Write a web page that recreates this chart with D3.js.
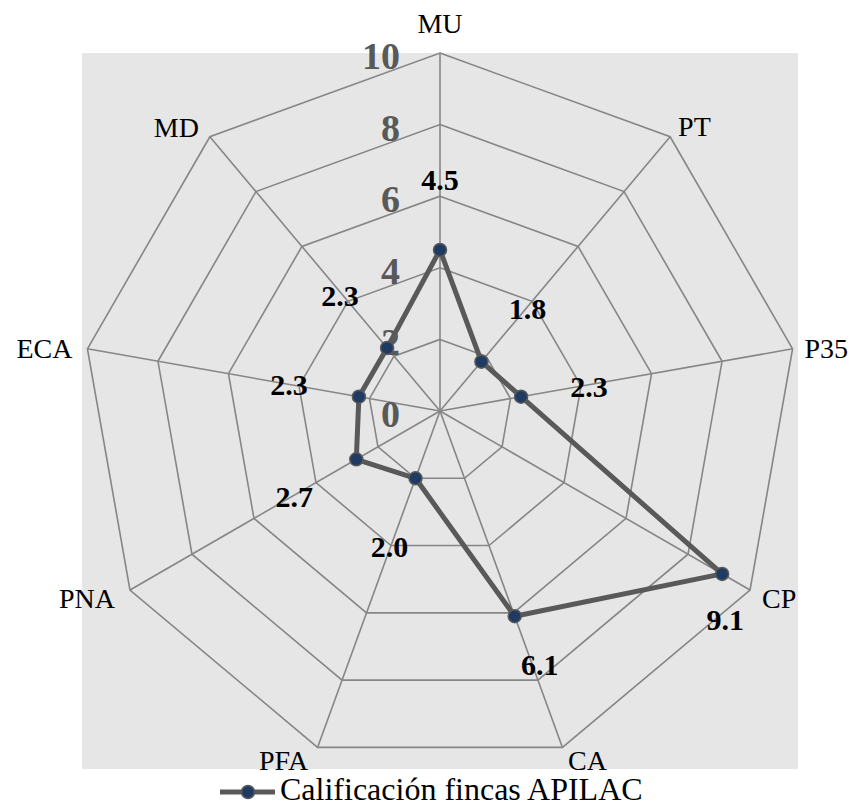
<!DOCTYPE html>
<html>
<head>
<meta charset="utf-8">
<script src="https://cdn.jsdelivr.net/npm/d3@7"></script>
<style>
  html, body { margin: 0; padding: 0; background: #ffffff; }
  svg { display: block; }
</style>
</head>
<body>
<svg id="chart" width="853" height="807"></svg>
<script>
// ---- Data ----
const categories = ["MU", "PT", "P35", "CP", "CA", "PFA", "PNA", "ECA", "MD"];
const values = [4.5, 1.8, 2.3, 9.1, 6.1, 2.0, 2.7, 2.3, 2.3];
const valueLabels = ["4.5", "1.8", "2.3", "9.1", "6.1", "2.0", "2.7", "2.3", "2.3"];
const tickValues = [0, 2, 4, 6, 8, 10];
const seriesName = "Calificación fincas APILAC";

// ---- Layout (styling only) ----
const FONT = "'Liberation Serif', 'Times New Roman', 'DejaVu Serif', serif";
const cx = 440, cy = 411, R = 358;
// category label placement relative to outer vertex: [dx, dy, anchor]
const catLabelLayout = [
  [0, -20, "middle"], [8, -1, "start"], [12, 9, "start"], [12, 18, "start"],
  [25, 23, "middle"], [-34, 23, "middle"], [-15, 18, "end"], [-15, 9, "end"], [-11, 0, "end"]
];
// data label centre offsets relative to the point
const dataLabelLayout = [
  [0, -70], [46, -53], [68, -10], [3, 46], [25, 48], [-26, 68], [-62, 37], [-70, -12], [-47, -52]
];

const svg = d3.select("#chart").attr("font-family", FONT);
const r = d3.scaleLinear().domain([0, 10]).range([0, R]);
const angle = d3.scalePoint().domain(categories).range([0, 360 * (categories.length - 1) / categories.length]);
const rad = c => angle(c) * Math.PI / 180;
const px = (c, v) => cx + r(v) * Math.sin(rad(c));
const py = (c, v) => cy - r(v) * Math.cos(rad(c));

// plot area background
svg.append("rect")
  .attr("x", cx - r(10)).attr("y", cy - r(10))
  .attr("width", 2 * r(10)).attr("height", 2 * r(10))
  .attr("fill", "#e6e6e6");

const grid = svg.append("g").attr("fill", "none").attr("stroke", "#868686").attr("stroke-width", 1.6);
tickValues.filter(t => t > 0).forEach(t => {
  grid.append("polygon")
    .attr("points", categories.map(c => [px(c, t), py(c, t)].join(",")).join(" "));
});
categories.forEach(c => {
  grid.append("line")
    .attr("x1", cx).attr("y1", cy)
    .attr("x2", px(c, 10)).attr("y2", py(c, 10));
});

// tick labels
svg.append("g").selectAll("text").data(tickValues).join("text")
  .attr("x", cx - 40)
  .attr("y", d => cy - r(d) + 3)
  .attr("text-anchor", "end")
  .attr("dominant-baseline", "central")
  .attr("font-family", FONT)
  .attr("font-size", 38)
  .attr("font-weight", "bold")
  .attr("fill", "#595959")
  .text(d => d);

// category labels
svg.append("g").selectAll("text").data(categories).join("text")
  .attr("x", (c, i) => px(c, 10) + catLabelLayout[i][0])
  .attr("y", (c, i) => py(c, 10) + catLabelLayout[i][1])
  .attr("text-anchor", (c, i) => catLabelLayout[i][2])
  .attr("font-family", FONT)
  .attr("font-size", 28)
  .attr("fill", "#000")
  .text(c => c);

// series line
const pts = categories.map((c, i) => [px(c, values[i]), py(c, values[i])]);
svg.append("path")
  .attr("d", d3.line().curve(d3.curveLinearClosed)(pts))
  .attr("fill", "none")
  .attr("stroke", "#595959")
  .attr("stroke-width", 5)
  .attr("stroke-linejoin", "round");

svg.append("g").selectAll("circle").data(pts).join("circle")
  .attr("cx", d => d[0]).attr("cy", d => d[1])
  .attr("r", 6.5)
  .attr("fill", "#1f3b63")
  .attr("stroke", "#595959")
  .attr("stroke-width", 1.5);

// data labels
svg.append("g").selectAll("text").data(categories).join("text")
  .attr("x", (c, i) => px(c, values[i]) + dataLabelLayout[i][0])
  .attr("y", (c, i) => py(c, values[i]) + dataLabelLayout[i][1])
  .attr("text-anchor", "middle")
  .attr("dominant-baseline", "central")
  .attr("font-family", FONT)
  .attr("font-size", 30)
  .attr("font-weight", "bold")
  .attr("fill", "#000")
  .text((c, i) => valueLabels[i]);

// legend
const lg = svg.append("g");
lg.append("line").attr("x1", 220).attr("x2", 275).attr("y1", 792).attr("y2", 792)
  .attr("stroke", "#595959").attr("stroke-width", 5);
lg.append("circle").attr("cx", 248).attr("cy", 792).attr("r", 6.5)
  .attr("fill", "#1f3b63").attr("stroke", "#595959").attr("stroke-width", 1.5);
lg.append("text").attr("x", 280).attr("y", 800)
  .attr("font-family", FONT)
  .attr("font-size", 32).attr("fill", "#000").text(seriesName);
</script>
</body>
</html>
